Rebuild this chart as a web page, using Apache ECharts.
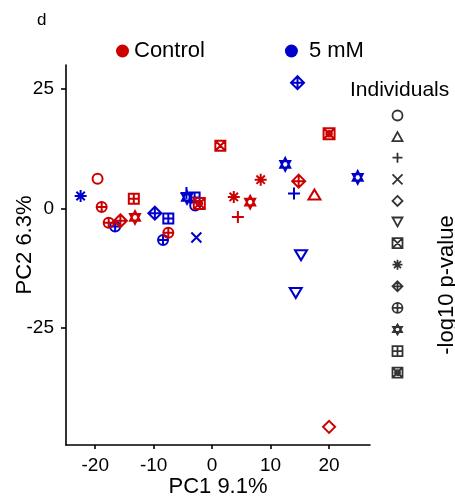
<!DOCTYPE html>
<html>
<head>
<meta charset="utf-8">
<script src="https://cdn.jsdelivr.net/npm/echarts@6/dist/echarts.min.js"></script>
<style>
  html, body { margin: 0; padding: 0; background: #fff; }
  #chart { width: 455px; height: 501px; }
</style>
</head>
<body>
<div id="chart"></div>
<script>
// individual shapes, in legend order
const shapeNames = ["circle", "triangle", "plus", "cross", "diamond", "triangleDown",
  "boxTimes", "asterisk", "diamondPlus", "circlePlus", "star", "boxPlus", "boxOtimes"];
const shapePaths = [
  "path://M0,10A10,10 0 1,1 20,10A10,10 0 1,1 0,10Z",
  "path://M10,0L20,18L0,18Z",
  "path://M10,0L10,20M0,10L20,10",
  "path://M0,0L20,20M20,0L0,20",
  "path://M10,0L20,10L10,20L0,10Z",
  "path://M0,0L20,0L10,18Z",
  "path://M0,0L20,0L20,20L0,20ZM0,0L20,20M20,0L0,20",
  "path://M10,0L10,20M0,10L20,10M3,3L17,17M17,3L3,17",
  "path://M10,0L20,10L10,20L0,10ZM10,0L10,20M0,10L20,10",
  "path://M0,10A10,10 0 1,1 20,10A10,10 0 1,1 0,10ZM10,0L10,20M0,10L20,10",
  "path://M10,0L19,15L1,15ZM1,5L19,5L10,20Z",
  "path://M0,0L20,0L20,20L0,20ZM10,0L10,20M0,10L20,10",
  "path://M0,0L20,0L20,20L0,20ZM0,0L20,20M20,0L0,20M5,10A5,5 0 1,1 15,10A5,5 0 1,1 5,10Z"
];
const shapeSizes = [10, [12, 10], 12, 10, 12, [12, 10], 10, 12, 13, 10, [10, 13], 10, 11];

// Control
const ctrlPC1 = [-19.6, -18.9, -17.7, -15.7, -13.4, -13.2, -7.5, -2.2, 1.4, 3.7, 4.4, 6.5, 8.3, 14.8, 17.5, 20.0, 20.0];
const ctrlPC2 = [6.2, 0.3, -3.0, -2.6, 2.0, -1.9, -5.1, 1.0, 13.1, 2.4, -1.8, 1.3, 6.0, 5.7, 2.9, 15.6, -45.7];
const ctrlShape = [0, 9, 9, 8, 11, 10, 9, 12, 6, 7, 2, 10, 7, 8, 1, 12, 4];

// 5 mM
const mmPC1 = [-22.5, -16.6, -9.8, -7.5, -8.4, -4.4, -4.3, -3.0, -2.9, -2.7, 14.6, 12.5, 14.0, 24.9, 15.2, 14.3];
const mmPC2 = [2.6, -3.8, -1.0, -2.1, -6.6, 3.2, 2.3, 2.3, 0.6, -6.1, 26.3, 9.2, 3.1, 6.5, -9.8, -17.7];
const mmShape = [7, 9, 8, 11, 9, 2, 10, 11, 0, 3, 8, 10, 2, 10, 5, 5];

const xTicks = [-20, -10, 0, 10, 20];
const yTicks = [-25, 0, 25];

const RED = "#CC0000";
const BLUE = "#0000CC";
const FONT = "Liberation Sans";

function points(xs, ys, shapes) {
  return xs.map((x, i) => ({
    value: [x, ys[i]],
    symbol: shapePaths[shapes[i]],
    symbolSize: shapeSizes[shapes[i]]
  }));
}

function groupSeries(name, color, data) {
  return {
    name: name,
    type: "scatter",
    data: data,
    itemStyle: { color: "none", borderColor: color, borderWidth: 2, opacity: 1 },
    emphasis: { disabled: true }
  };
}

// empty series, only used to draw the shape key
const shapeSeries = shapeNames.map((n, i) => ({
  name: n,
  type: "scatter",
  data: [],
  symbol: shapePaths[i]
}));

const chart = echarts.init(document.getElementById("chart"));

chart.setOption({
  animation: false,
  textStyle: { fontFamily: FONT },
  title: {
    text: "d",
    left: 37,
    top: 12,
    padding: 0,
    textStyle: { fontFamily: FONT, fontSize: 17, fontWeight: "normal", color: "#000" }
  },
  grid: { left: 66, right: 85, top: 65, bottom: 56, outerBoundsMode: "none" },
  legend: [
    {
      data: [
        { name: "Control", icon: "circle", itemStyle: { color: RED, borderWidth: 0 } },
        { name: "5 mM", icon: "circle", itemStyle: { color: BLUE, borderWidth: 0 },
          textStyle: { padding: [0, 0, 0, 6] } }
      ],
      left: 116,
      top: 40,
      padding: 0,
      itemWidth: 13,
      itemHeight: 13,
      itemGap: 80,
      textStyle: { fontFamily: FONT, fontSize: 22, color: "#000" }
    },
    {
      data: shapeNames.map((n, i) => ({
        name: n,
        icon: shapePaths[i],
        itemStyle: { color: "none", borderColor: "#000", borderWidth: 1.8 }
      })),
      orient: "vertical",
      left: 390,
      top: 108,
      padding: 0,
      itemWidth: 10,
      itemHeight: 10,
      itemGap: 6.6,
      formatter: () => "",
      textStyle: { fontSize: 1, lineHeight: 1 }
    }
  ],
  xAxis: {
    type: "value",
    min: -25,
    max: 27,
    name: "PC1 9.1%",
    nameLocation: "middle",
    nameGap: 31,
    nameMoveOverlap: false,
    nameTextStyle: { fontFamily: FONT, fontSize: 22, color: "#000" },
    axisLine: { onZero: false, lineStyle: { color: "#000", width: 1.6 } },
    axisTick: { customValues: xTicks, length: 4, lineStyle: { color: "#000", width: 1.6 } },
    axisLabel: { customValues: xTicks, margin: 11, fontFamily: FONT, fontSize: 19, color: "#000" },
    splitLine: { show: false }
  },
  yAxis: {
    type: "value",
    min: -49.5,
    max: 30,
    name: "PC2 6.3%",
    nameLocation: "middle",
    nameGap: 30,
    nameMoveOverlap: false,
    nameTextStyle: { fontFamily: FONT, fontSize: 22, color: "#000", padding: [0, 0, 0, 20] },
    axisLine: { onZero: false, lineStyle: { color: "#000", width: 1.6 } },
    axisTick: { customValues: yTicks, length: 5, lineStyle: { color: "#000", width: 1.6 } },
    axisLabel: { customValues: yTicks, margin: 12, fontFamily: FONT, fontSize: 19, color: "#000" },
    splitLine: { show: false }
  },
  graphic: [
    {
      type: "text",
      left: 350,
      top: 80,
      style: { text: "Individuals", font: "21px " + FONT, fill: "#000" }
    },
    {
      type: "text",
      x: 436,
      y: 285,
      rotation: Math.PI / 2,
      style: { text: "-log10 p-value", font: "22px " + FONT, fill: "#000",
        align: "center", verticalAlign: "top" }
    }
  ],
  series: [
    groupSeries("5 mM", BLUE, points(mmPC1, mmPC2, mmShape)),
    groupSeries("Control", RED, points(ctrlPC1, ctrlPC2, ctrlShape))
  ].concat(shapeSeries)
});
</script>
</body>
</html>
